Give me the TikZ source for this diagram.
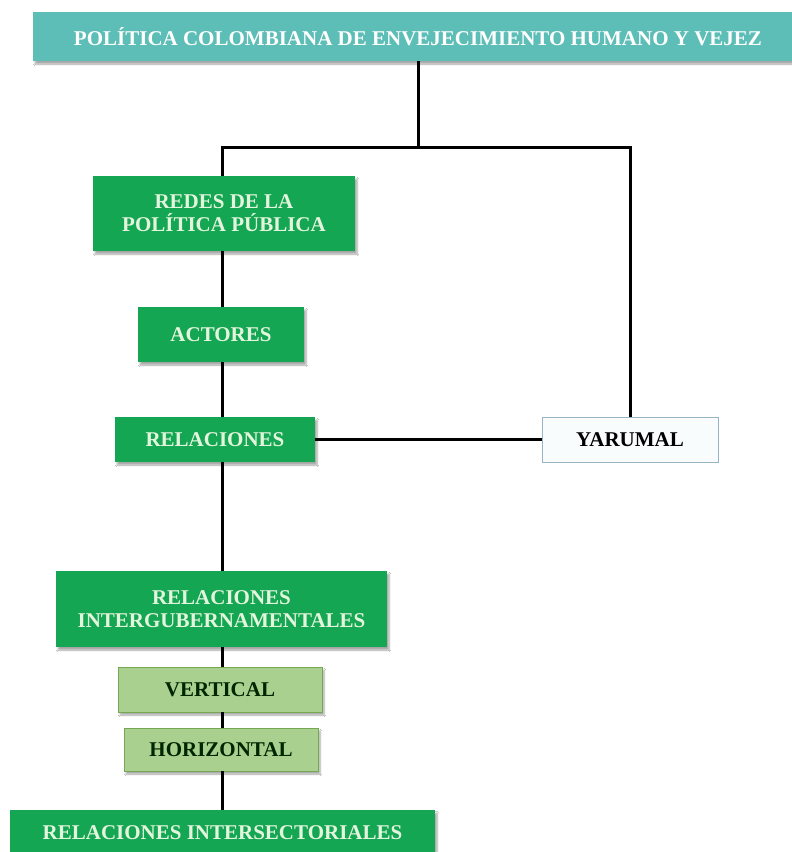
\documentclass[tikz,border=0pt]{standalone}
\usepackage{fontspec}
\setmainfont{Liberation Serif}
\usetikzlibrary{shadows.blur}

\definecolor{tealhead}{RGB}{92,190,182}
\definecolor{boxgreen}{RGB}{20,166,82}
\definecolor{paletext}{RGB}{228,245,222}
\definecolor{lightgreen}{RGB}{169,208,142}
\definecolor{lightgreenrule}{RGB}{118,168,84}
\definecolor{yarrule}{RGB}{150,180,196}
\definecolor{yarfill}{RGB}{248,252,253}

\begin{document}
\begin{tikzpicture}[x=1pt,y=-1pt,
  labelfont/.style={font=\fontsize{21}{23}\selectfont\bfseries},
  softshadow/.style={blur shadow={shadow xshift=2pt,shadow yshift=-3pt,
      shadow blur steps=6,shadow opacity=35}},
  header/.style={labelfont,fill=tealhead,text=white,inner sep=0pt,softshadow},
  mainbox/.style={labelfont,fill=boxgreen,text=paletext,align=center,
      inner sep=0pt,softshadow},
  subbox/.style={labelfont,fill=lightgreen,draw=lightgreenrule,line width=0.8pt,
      text=black!85!green,inner sep=0pt,softshadow},
  sidebox/.style={labelfont,fill=yarfill,draw=yarrule,line width=1pt,
      text=black,inner sep=0pt},
  link/.style={line width=3pt,black}]

\fill[white] (0,0) rectangle (792,852);
\useasboundingbox (0,0) rectangle (792,852);

% title bar
\node[header,minimum width=770pt,minimum height=49pt] (title) at (418,36.5)
  {POLÍTICA COLOMBIANA DE ENVEJECIMIENTO HUMANO Y VEJEZ};

% left column
\node[mainbox,minimum width=262pt,minimum height=75pt] (redes) at (224,213.5)
  {REDES DE LA\\POLÍTICA PÚBLICA};
\node[mainbox,minimum width=166pt,minimum height=55pt] (actores) at (221,334.5)
  {ACTORES};
\node[mainbox,minimum width=200pt,minimum height=45pt] (relac) at (215,439.5)
  {RELACIONES};
\node[mainbox,minimum width=331pt,minimum height=76pt] (interg) at (221.5,609)
  {RELACIONES\\INTERGUBERNAMENTALES};
\node[subbox,minimum width=204pt,minimum height=45pt] (vert) at (220,689.5)
  {VERTICAL};
\node[subbox,minimum width=194pt,minimum height=43pt] (horiz) at (221,749.5)
  {HORIZONTAL};
\node[mainbox,minimum width=425pt,minimum height=70pt,anchor=north] (intersec)
  at (222.5,810) {};
\node[labelfont,text=paletext,inner sep=0pt] (intersectxt) at (222.5,833)
  {RELACIONES INTERSECTORIALES};

% right branch
\node[sidebox,minimum width=176pt,minimum height=45pt] (yarumal) at (630,439.5)
  {YARUMAL};

% junction points
\coordinate (spine) at (222,147);
\coordinate (fork) at (title.south |- spine);
\coordinate (rightfork) at (yarumal.north |- spine);

% connectors
\draw[link] (title.south -| fork) -- (fork);
\draw[link] (redes.north -| spine) -- (spine) -- (rightfork) -- (yarumal.north);
\draw[link] (redes.south -| spine) -- (actores.north -| spine);
\draw[link] (actores.south -| spine) -- (relac.north -| spine);
\draw[link] (relac.east) -- (yarumal.west);
\draw[link] (relac.south -| spine) -- (interg.north -| spine);
\draw[link] (interg.south -| spine) -- (vert.north -| spine);
\draw[link] (vert.south -| spine) -- (horiz.north -| spine);
\draw[link] (horiz.south -| spine) -- (intersec.north -| spine);

\end{tikzpicture}
\end{document}
